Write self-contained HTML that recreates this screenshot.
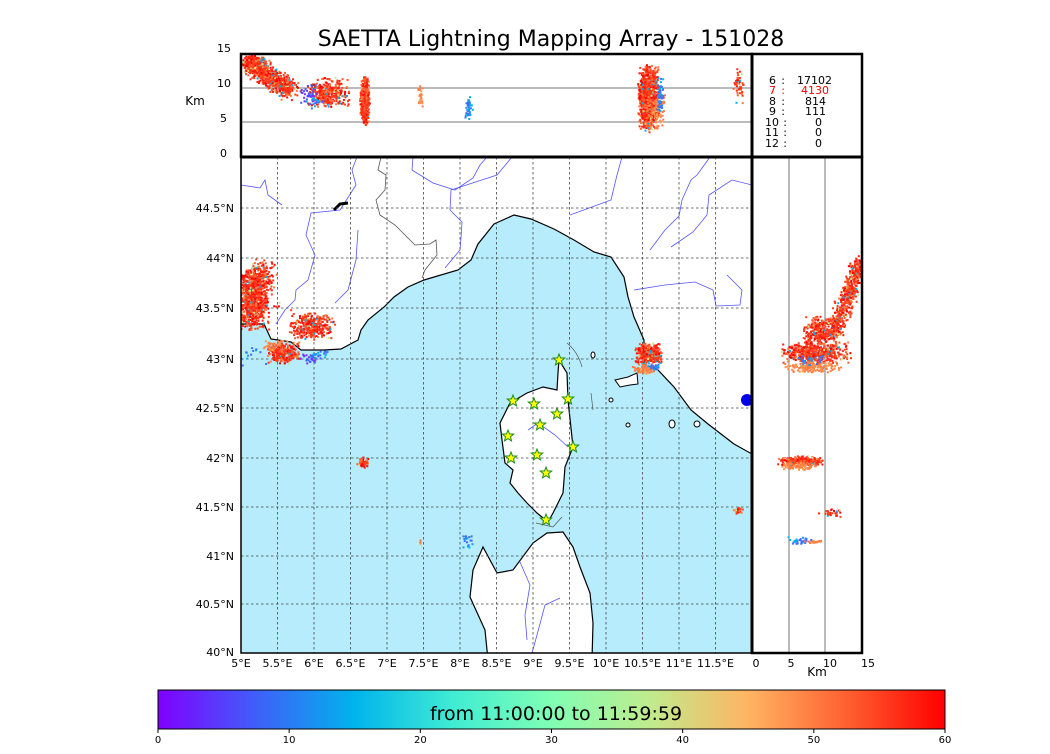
<!DOCTYPE html>
<html><head><meta charset="utf-8"><style>
html,body{margin:0;padding:0;background:#fff;}
body{width:1050px;height:750px;overflow:hidden;font-family:"DejaVu Sans","Liberation Sans",sans-serif;}
</style></head><body>
<svg id="s" width="1050" height="750" xmlns="http://www.w3.org/2000/svg" font-family="DejaVu Sans, Liberation Sans, sans-serif">
<defs>
<linearGradient id="rb" x1="0" x2="1" y1="0" y2="0">
<stop offset="0" stop-color="#8000ff"/>
<stop offset="0.125" stop-color="#3f5ff9"/>
<stop offset="0.25" stop-color="#00b4ec"/>
<stop offset="0.375" stop-color="#40ecd4"/>
<stop offset="0.5" stop-color="#80ffb4"/>
<stop offset="0.625" stop-color="#c0eb8d"/>
<stop offset="0.75" stop-color="#ffb462"/>
<stop offset="0.875" stop-color="#ff6030"/>
<stop offset="1" stop-color="#ff0000"/>
</linearGradient>
<clipPath id="mc"><rect x="241" y="157" width="511" height="496"/></clipPath>
<clipPath id="tc"><rect x="241" y="54" width="511" height="103"/></clipPath>
<clipPath id="rc"><rect x="752" y="157" width="110" height="496"/></clipPath>
</defs>
<text x="551" y="46" font-size="22" text-anchor="middle">SAETTA Lightning Mapping Array - 151028</text>

<g clip-path="url(#mc)">
<rect x="241" y="157" width="511" height="496" fill="#b6ecfb"/>
<path d="M241,157 L752,157 L752,454 L734,444 L708,424 L691,410 L674,387 L658,370 L644,364 L644,340 L634,317 L628,297 L624,277 L611,257 L594,252 L574,240 L554,229 L531,219 L514,215 L494,224 L478,244 L471,260 L458,270 L424,280 L408,287 L394,297 L384,307 L368,320 L361,330 L358,340 L341,349 L324,350 L301,350 L291,342 L271,339 L264,324 L241,324 Z" fill="#fff" stroke="#000" stroke-width="1.2"/>
<path d="M559,360 L567,373 L568,400 L573,447 L565,467 L563,493 L553,513 L548,522 L537,513 L527,503 L518,493 L510,483 L513,470 L505,463 L502,440 L500,423 L510,403 L527,393 L543,387 L557,390 L558,373 Z" fill="#fff" stroke="#000" stroke-width="1.2"/>
<path d="M563,532 L573,547 L580,567 L590,593 L593,623 L592,660 L488,660 L485,630 L470,597 L473,570 L483,547 L497,573 L513,570 L533,543 L547,533 Z" fill="#fff" stroke="#000" stroke-width="1.2"/>
<path d="M615,380 L628,377 L637,373 L638,384 L630,385 L620,387 Z" fill="#fff" stroke="#000"/>
<ellipse cx="593" cy="355" rx="2" ry="3" fill="#fff" stroke="#000"/>
<ellipse cx="611" cy="400" rx="2" ry="2" fill="#fff" stroke="#000"/>
<ellipse cx="628" cy="425" rx="2" ry="2" fill="#fff" stroke="#000"/>
<ellipse cx="672" cy="424" rx="3" ry="4" fill="#fff" stroke="#000"/>
<ellipse cx="697" cy="424" rx="3" ry="3" fill="#fff" stroke="#000"/>
<path d="M567,343 Q578,352 582,367" fill="none" stroke="#555" stroke-width="0.7"/>
<path d="M591,393 L593,410" fill="none" stroke="#555" stroke-width="0.7"/>
<path d="M536,523 L553,527 L562,517" fill="none" stroke="#555" stroke-width="0.7"/>
<path d="M381,157 L378,170 L386,175 L385,190 L376,200 L380,215 L395,225 L415,245 L430,244 L436,240 L437,255 L425,270 L422,278" fill="none" stroke="#555" stroke-width="0.8"/>
<g fill="none" stroke="#5555ff" stroke-width="0.8">
<path d="M241,185 L260,188 L265,180 L268,195 L282,205"/>
<path d="M357,157 L352,170 L356,185 L340,210 L311,213 L306,235 L315,255 L308,280 L296,290 L295,300 L285,310 L276,324"/>
<path d="M358,230 L356,260 L348,290 L335,303"/>
<path d="M413,157 L412,170 L433,183 L455,190 L473,178 L480,165 L487,157"/>
<path d="M512,157 L497,175 L451,190 L450,210 L462,222 L461,238 L460,250 L445,268"/>
<path d="M622,157 L617,175 L611,200 L570,215"/>
<path d="M710,157 L697,175 L691,180 L682,200 L679,216 L665,230 L650,250"/>
<path d="M752,185 L732,180 L709,195 L707,215 L693,232 L671,247"/>
<path d="M634,290 L665,285 L695,282 L713,290 L716,306 L740,305 L742,290 L727,275"/>
<path d="M528,430 L538,423 L555,435 L568,447"/>
<path d="M520,562 L530,585 L525,615 L527,640"/>
<path d="M560,598 L545,605 L537,635 L532,653"/>
</g>
<path d="M334,210 L340,204 L348,203" stroke="#000" stroke-width="3" fill="none"/>
<ellipse cx="747" cy="400" rx="6" ry="6" fill="#0000ee"/>
<g id="grid" stroke="#444" stroke-width="0.8" stroke-dasharray="2.5,2.5"></g>
<g id="mdots"></g>
<g id="stars"></g>
</g>
<rect x="241" y="157" width="511" height="496" fill="none" stroke="#000" stroke-width="1.5"/>

<g clip-path="url(#tc)">
<line x1="241" x2="752" y1="88" y2="88" stroke="#777" stroke-width="1"/>
<line x1="241" x2="752" y1="122" y2="122" stroke="#777" stroke-width="1"/>
<g id="tdots"></g>
</g>
<rect x="241" y="54" width="511" height="103" fill="none" stroke="#000" stroke-width="2.5"/>
<rect x="752" y="54" width="110" height="103" fill="none" stroke="#000" stroke-width="2.5"/>

<g clip-path="url(#rc)">
<line x1="789" x2="789" y1="157" y2="653" stroke="#777"/>
<line x1="825" x2="825" y1="157" y2="653" stroke="#777"/>
<g id="rdots"></g>
</g>
<rect x="752" y="157" width="110" height="496" fill="none" stroke="#000" stroke-width="2.5"/>
<line x1="241" x2="862" y1="157" y2="157" stroke="#000" stroke-width="3"/>
<line x1="752" x2="752" y1="54" y2="653" stroke="#000" stroke-width="3"/>

<g font-size="11" text-anchor="end">
<text x="776" y="84">6</text><text x="785" y="84">:</text><text x="832" y="84">17102</text>
<text x="776" y="94" fill="red">7</text><text x="785" y="94" fill="red">:</text><text x="829" y="94" fill="red">4130</text>
<text x="776" y="105">8</text><text x="785" y="105">:</text><text x="826" y="105">814</text>
<text x="776" y="115">9</text><text x="785" y="115">:</text><text x="826" y="115">111</text>
<text x="779" y="126">10</text><text x="787" y="126">:</text><text x="822" y="126">0</text>
<text x="779" y="136">11</text><text x="787" y="136">:</text><text x="822" y="136">0</text>
<text x="779" y="147">12</text><text x="787" y="147">:</text><text x="822" y="147">0</text>
</g>

<g font-size="11" text-anchor="end">
<text x="231" y="52">15</text><text x="231" y="87">10</text><text x="227" y="122">5</text><text x="227" y="157">0</text>
</g>
<text x="195" y="105" font-size="12" text-anchor="middle">Km</text>

<g id="labels" font-size="11"></g>
<text x="817" y="676" font-size="12" text-anchor="middle">Km</text>

<rect x="158" y="690" width="787" height="39" fill="url(#rb)" stroke="#000" stroke-width="1"/>
<text x="556" y="720" font-size="19" text-anchor="middle">from 11:00:00 to 11:59:59</text>
<g id="cb" font-size="10" text-anchor="middle"></g>
</svg>
<script>
var NS="http://www.w3.org/2000/svg";
function el(p,t,a,txt){var e=document.createElementNS(NS,t);for(var k in a)e.setAttribute(k,a[k]);if(txt!==undefined)e.textContent=txt;p.appendChild(e);return e;}
var seed=12345;function rnd(){seed=(seed*1103515245+12345)%2147483648;return seed/2147483648;}
function g(){return (rnd()+rnd()-1);}
var grid=document.getElementById('grid');
for(var i=1;i<14;i++){var x=241+i*36.5;el(grid,'line',{x1:x,x2:x,y1:157,y2:653});}
var lats=[208,258,308,359,408,458,507,556,604];
lats.forEach(function(y){el(grid,'line',{x1:241,x2:752,y1:y,y2:y});});
var L=document.getElementById('labels');
var latl=["44.5°N","44°N","43.5°N","43°N","42.5°N","42°N","41.5°N","41°N","40.5°N"];
lats.forEach(function(y,i){el(L,'text',{x:234,y:y+4,'text-anchor':'end'},latl[i]);});
el(L,'text',{x:234,y:656,'text-anchor':'end'},"40°N");
var lonl=["5°E","5.5°E","6°E","6.5°E","7°E","7.5°E","8°E","8.5°E","9°E","9.5°E","10°E","10.5°E","11°E","11.5°E"];
lonl.forEach(function(t,i){el(L,'text',{x:241+i*36.5,y:667,'text-anchor':'middle'},t);});
[["0",756],["5",791],["10",830],["15",868]].forEach(function(a){el(L,'text',{x:a[1],y:667,'text-anchor':'middle'},a[0]);});
var cb=document.getElementById('cb');
for(var i=0;i<=6;i++){var x=158+i*787/6;el(cb,'line',{x1:x,x2:x,y1:729,y2:733,stroke:'#000'});el(cb,'text',{x:x,y:743},String(i*10));}
var reds=["#ff0000","#ff1a0d","#ff3318","#ff2a10","#ff4020","#ff5a2a","#ff7a3e"];
function col(type){var r=rnd();
 if(type=='b') return r<0.6?"#3f6ff9":(r<0.8?"#2c90f0":"#00b4ec");
 if(type=='o') return r<0.6?"#ff7a3e":"#ff9950";
 if(type=='p') return r<0.5?"#7a30ff":"#3f5ff9";
 if(r<0.04) return "#00b4ec"; if(r<0.07) return "#c0eb8d";
 return reds[Math.floor(rnd()*reds.length)];}
function cl(id,n,cx,cy,sx,sy,type,sz){var p=document.getElementById(id);for(var i=0;i<n;i++){el(p,'rect',{x:(cx+g()*sx).toFixed(1),y:(cy+g()*sy).toFixed(1),width:sz||2,height:sz||2,fill:col(type)});}}
function line(id,n,x1,y1,x2,y2,s,type){var p=document.getElementById(id);for(var i=0;i<n;i++){var t=rnd();el(p,'rect',{x:(x1+(x2-x1)*t+g()*s).toFixed(1),y:(y1+(y2-y1)*t+g()*s).toFixed(1),width:2,height:2,fill:col(type)});}}
// map
cl('mdots',900,252,298,16,34,'r');
cl('mdots',150,262,275,12,18,'r');
cl('mdots',30,268,300,25,35,'r');
cl('mdots',350,312,325,24,14,'r');
cl('mdots',250,283,352,18,12,'r');
cl('mdots',40,275,345,14,8,'o');
cl('mdots',25,310,358,12,6,'p');
cl('mdots',20,318,353,10,5,'b');
cl('mdots',15,250,355,18,14,'b');
cl('mdots',420,648,353,14,11,'r');
cl('mdots',70,643,368,12,5,'o');
cl('mdots',20,653,366,6,4,'b');
cl('mdots',50,362,462,6,6,'r');
cl('mdots',25,738,510,6,4,'r');
cl('mdots',20,467,540,6,8,'b');
cl('mdots',4,419,541,2,2,'o');
// stars
var st=document.getElementById('stars');
[[559,360],[513,401],[534,404],[568,399],[557,414],[540,425],[508,436],[573,447],[511,458],[537,455],[546,473],[546,520]].forEach(function(p){
 var pts=[];for(var k=0;k<10;k++){var a=-Math.PI/2+k*Math.PI/5;var r=k%2?2.6:6;pts.push((p[0]+r*Math.cos(a)).toFixed(1)+","+(p[1]+r*Math.sin(a)).toFixed(1));}
 el(st,'polygon',{points:pts.join(" "),fill:"#ffff00",stroke:"#1a8a1a","stroke-width":1});});
// top
line('tdots',900,248,62,290,90,11,'r');
cl('tdots',150,255,62,14,8,'r');
cl('tdots',350,328,92,22,16,'r');
cl('tdots',35,308,93,10,10,'p');
cl('tdots',25,315,100,10,8,'b');
cl('tdots',450,364,100,5,26,'r');
cl('tdots',25,420,96,3,12,'o');
cl('tdots',45,468,108,4,14,'b');
cl('tdots',1100,648,97,11,35,'r');
cl('tdots',90,655,112,10,20,'o');
cl('tdots',50,659,95,4,18,'b');
cl('tdots',40,738,85,6,18,'r');
// right
line('rdots',600,860,262,832,335,10,'r');
cl('rdots',250,818,330,16,16,'r');
cl('rdots',500,815,352,38,12,'r');
cl('rdots',150,812,366,30,6,'o');
cl('rdots',25,810,360,22,8,'b');
cl('rdots',300,800,460,24,5,'r');
cl('rdots',100,800,465,20,4,'o');
cl('rdots',30,830,512,14,5,'r');
cl('rdots',30,800,540,15,5,'b');
cl('rdots',20,815,541,12,2,'o');
</script>
</body></html>
